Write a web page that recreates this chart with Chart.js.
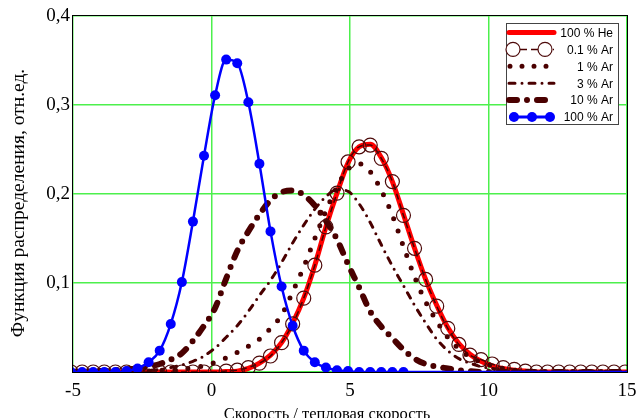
<!DOCTYPE html>
<html>
<head>
<meta charset="utf-8">
<script src="https://cdn.jsdelivr.net/npm/chart.js@4.4.1/dist/chart.umd.min.js"></script>
<style>
  html, body { margin: 0; padding: 0; background: #fff; }
  #wrap { width: 638px; height: 418px; }
</style>
</head>
<body>
<div id="wrap"><canvas id="distChart"></canvas></div>
<script>
// velocity / thermal velocity (sample points of the curves)
const speeds = [-5.07, -4.67, -4.27, -3.87, -3.47, -3.07, -2.67, -2.27, -1.87, -1.47,
    -1.07, -0.67, -0.27, 0.13, 0.53, 0.93, 1.33, 1.73, 2.13, 2.53,
    2.93, 3.33, 3.73, 4.13, 4.53, 4.93, 5.33, 5.73, 6.13, 6.53,
    6.93, 7.33, 7.73, 8.13, 8.53, 8.93, 9.33, 9.73, 10.13, 10.53,
    10.93, 11.33, 11.73, 12.13, 12.53, 12.93, 13.33, 13.73, 14.13, 14.53,
    14.93, 15.33];

const he100 = [0, 0, 0, 0, 0, 0, 0, 0, 0, 0,
    0, 0, 0, 0, 0.0005, 0.001, 0.004, 0.010, 0.019, 0.033,
    0.055, 0.083, 0.120, 0.163, 0.201, 0.235, 0.253, 0.256, 0.241, 0.214,
    0.177, 0.139, 0.104, 0.075, 0.050, 0.032, 0.020, 0.012, 0.007, 0.004,
    0.002, 0.001, 0, 0, 0, 0, 0, 0, 0, 0,
    0, 0];

const ar01 = [0, 0, 0, 0, 0, 0, 0, 0, 0, 0,
    0, 0, 0, 0, 0.001, 0.002, 0.005, 0.010, 0.018, 0.033,
    0.054, 0.083, 0.120, 0.163, 0.201, 0.236, 0.253, 0.255, 0.240, 0.214,
    0.176, 0.139, 0.104, 0.074, 0.049, 0.031, 0.019, 0.014, 0.009, 0.005,
    0.003, 0.001, 0, 0, 0, 0, 0, 0, 0, 0,
    0, 0];

const ar1 = [0, 0, 0, 0, 0, 0, 0.001, 0.001, 0.002, 0.002,
    0.003, 0.005, 0.007, 0.011, 0.016, 0.022, 0.029, 0.037, 0.049, 0.064,
    0.090, 0.118, 0.150, 0.181, 0.208, 0.228, 0.234, 0.225, 0.204, 0.176,
    0.141, 0.107, 0.079, 0.057, 0.039, 0.026, 0.017, 0.011, 0.007, 0.004,
    0.002, 0.001, 0, 0, 0, 0, 0, 0, 0, 0,
    0, 0];

const ar3 = [0, 0, 0, 0, 0.001, 0.001, 0.002, 0.002, 0.003, 0.005,
    0.008, 0.012, 0.018, 0.027, 0.039, 0.052, 0.068, 0.086, 0.103, 0.123,
    0.145, 0.165, 0.183, 0.197, 0.205, 0.203, 0.189, 0.168, 0.143, 0.119,
    0.097, 0.075, 0.055, 0.037, 0.024, 0.015, 0.010, 0.006, 0.004, 0.002,
    0.001, 0, 0, 0, 0, 0, 0, 0, 0, 0,
    0, 0];

const ar10 = [0, 0, 0.001, 0.001, 0.002, 0.003, 0.004, 0.006, 0.009, 0.014,
    0.021, 0.035, 0.052, 0.072, 0.105, 0.136, 0.158, 0.177, 0.193, 0.202,
    0.204, 0.199, 0.187, 0.170, 0.149, 0.121, 0.095, 0.068, 0.051, 0.038,
    0.025, 0.015, 0.009, 0.006, 0.004, 0.002, 0.001, 0, 0, 0,
    0, 0, 0, 0, 0, 0, 0, 0, 0, 0,
    0, 0];

const ar100 = [0, 0, 0, 0, 0, 0.001, 0.004, 0.011, 0.024, 0.054,
    0.101, 0.169, 0.243, 0.311, 0.351, 0.347, 0.303, 0.234, 0.158, 0.096,
    0.052, 0.024, 0.011, 0.005, 0.002, 0.001, 0, 0, 0, 0,
    0, 0, 0, 0, 0, 0, 0, 0, 0, 0,
    0, 0, 0, 0, 0, 0, 0, 0, 0, 0,
    0, 0];

const xTicks = [-5, 0, 5, 10, 15];
const yTicks = [0.1, 0.2, 0.3, 0.4];
const xTitle = "Скорость / тепловая скорость";
const yTitle = "Функция распределения, отн.ед.";

const brown = "#4a0000";
const serif = "'Liberation Serif', 'Times New Roman', serif";

function pts(values) {
    return values.map(function (v, i) { return { x: speeds[i], y: v }; });
}

// black frame around the plot area
const frame = {
    id: "frame",
    beforeDatasetsDraw(chart) {
        const a = chart.chartArea;
        const ctx = chart.ctx;
        ctx.save();
        ctx.strokeStyle = "#000";
        ctx.lineWidth = 1;
        ctx.strokeRect(Math.round(a.left) - 0.5, Math.round(a.top) - 0.5,
            Math.round(a.right - a.left) + 1, Math.round(a.bottom - a.top) + 1);
        ctx.restore();
    }
};

// axis titles (placed a bit off-centre, as in the original)
const axisTitles = {
    id: "axisTitles",
    afterDraw(chart) {
        const ctx = chart.ctx;
        ctx.save();
        ctx.fillStyle = "#000";
        ctx.textAlign = "center";
        ctx.textBaseline = "alphabetic";
        ctx.font = "16.5px " + serif;
        ctx.fillText(xTitle, 327, 419);
        ctx.translate(24, 203);
        ctx.rotate(-Math.PI / 2);
        ctx.font = "19.5px " + serif;
        ctx.fillText(yTitle, 0, 0);
        ctx.restore();
    }
};

// boxed legend with line samples, top right
const boxLegend = {
    id: "boxLegend",
    afterDraw(chart) {
        const ctx = chart.ctx;
        const x0 = 506, y0 = 23, w = 112, h = 101;
        ctx.save();
        ctx.fillStyle = "#fff";
        ctx.fillRect(x0, y0, w, h);
        ctx.strokeStyle = "#444";
        ctx.lineWidth = 1;
        ctx.strokeRect(x0 + 0.5, y0 + 0.5, w, h);
        chart.data.datasets.forEach(function (ds, i) {
            const y = y0 + 9.5 + i * 16.9;
            ctx.save();
            ctx.strokeStyle = ds.borderColor;
            ctx.lineWidth = ds.legendWidth || ds.borderWidth;
            ctx.lineCap = ds.borderCapStyle || "butt";
            ctx.setLineDash(ds.legendDash || ds.borderDash || []);
            ctx.beginPath();
            ctx.moveTo(ds.legendStart || 509, y);
            ctx.lineTo(554, y);
            ctx.stroke();
            ctx.restore();
            (ds.legendMarks || []).forEach(function (mx) {
                ctx.save();
                ctx.beginPath();
                ctx.arc(mx, y, ds.legendRadius, 0, Math.PI * 2);
                if (ds.pointBackgroundColor !== "transparent") {
                    ctx.fillStyle = ds.pointBackgroundColor;
                    ctx.fill();
                } else {
                    ctx.fillStyle = "#fff";
                    ctx.fill();
                    ctx.strokeStyle = ds.pointBorderColor;
                    ctx.lineWidth = ds.pointBorderWidth;
                    ctx.stroke();
                }
                ctx.restore();
            });
            ctx.fillStyle = "#000";
            ctx.font = "12px 'Liberation Sans', Arial, sans-serif";
            ctx.textAlign = "right";
            ctx.textBaseline = "middle";
            ctx.fillText(ds.label, 613, y + 1);
        });
        ctx.restore();
    }
};

new Chart(document.getElementById("distChart"), {
    type: "line",
    data: {
        datasets: [
            {
                label: "100 % He",
                data: pts(he100),
                borderColor: "#ff0000",
                borderWidth: 5,
                borderCapStyle: "round",
                pointRadius: 0,
                order: 5
            },
            {
                label: "0.1 % Ar",
                data: pts(ar01),
                borderColor: brown,
                borderWidth: 1.5,
                borderDash: [6, 4],
                legendDash: [7, 4],
                pointRadius: 7,
                legendRadius: 7,
                pointBorderWidth: 1.2,
                pointBorderColor: "#4d0a0a",
                pointBackgroundColor: "transparent",
                legendMarks: [513, 545],
                order: 1
            },
            {
                label: "1 % Ar",
                data: pts(ar1),
                borderColor: brown,
                borderWidth: 5,
                borderCapStyle: "round",
                borderDash: [0, 13],
                legendDash: [0, 12],
                legendStart: 510,
                pointRadius: 0,
                order: 2
            },
            {
                label: "3 % Ar",
                data: pts(ar3),
                borderColor: brown,
                borderWidth: 3,
                borderCapStyle: "round",
                borderDash: [6, 7, 0, 7],
                pointRadius: 0,
                order: 3
            },
            {
                label: "10 % Ar",
                data: pts(ar10),
                borderColor: brown,
                borderWidth: 6,
                borderCapStyle: "round",
                borderDash: [8, 10, 0, 10],
                pointRadius: 0,
                order: 4
            },
            {
                label: "100 % Ar",
                data: pts(ar100),
                borderColor: "#0000ff",
                borderWidth: 2.5,
                legendWidth: 3,
                pointRadius: function (c) {
                    return c.raw && c.raw.x < 7.1 ? 5 : 0;
                },
                legendRadius: 5,
                pointBackgroundColor: "#0000ff",
                pointBorderColor: "#0000ff",
                pointBorderWidth: 0,
                legendMarks: [514, 532, 550],
                order: 0
            }
        ]
    },
    options: {
        responsive: true,
        maintainAspectRatio: false,
        animation: false,
        layout: { padding: { top: 16, right: 11, left: 0, bottom: 0 } },
        elements: { line: { cubicInterpolationMode: "monotone" } },
        datasets: { line: { clip: 0 } },
        plugins: {
            legend: { display: false },
            tooltip: { enabled: false }
        },
        scales: {
            x: {
                type: "linear",
                min: -5,
                max: 15,
                afterBuildTicks: function (scale) {
                    scale.ticks = xTicks.map(function (v) { return { value: v }; });
                },
                afterFit: function (scale) {
                    scale.height = 46;
                    scale.paddingLeft = 0;
                    scale.paddingRight = 0;
                },
                grid: { color: "#4cf04c", lineWidth: 1.5, drawTicks: false },
                border: { display: false },
                ticks: {
                    padding: 8,
                    color: "#000",
                    font: { family: serif, size: 19 },
                    callback: function (v) { return String(v); }
                }
            },
            y: {
                min: 0,
                max: 0.4,
                afterBuildTicks: function (scale) {
                    scale.ticks = [0].concat(yTicks).map(function (v) { return { value: v }; });
                },
                afterFit: function (scale) { scale.width = 73; },
                grid: { color: "#4cf04c", lineWidth: 1.5, drawTicks: false },
                border: { display: false },
                ticks: {
                    padding: 3,
                    color: "#000",
                    font: { family: serif, size: 19 },
                    callback: function (v) {
                        return v === 0 ? "" : v.toFixed(1).replace(".", ",");
                    }
                }
            }
        }
    },
    plugins: [frame, boxLegend, axisTitles]
});
</script>
</body>
</html>
